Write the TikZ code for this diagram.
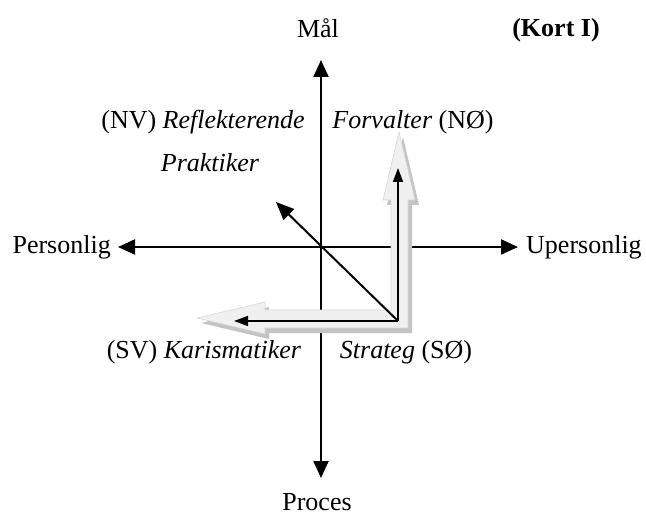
\documentclass[tikz,border=0pt]{standalone}
\usepackage{fontspec}
\setmainfont{Liberation Serif}
\usetikzlibrary{arrows.meta}
\definecolor{fatfill}{HTML}{F0F0F0}
\definecolor{fatshadow}{HTML}{C4C4C4}
\definecolor{fatline}{HTML}{D6D6D6}
\begin{document}
\begin{tikzpicture}[x=1pt,y=-1pt,
  lbl/.style={inner sep=0pt,font=\fontsize{26}{31}\selectfont},
  axis/.style={line width=2.2pt,{Triangle[length=17pt,width=15pt]}-{Triangle[length=17pt,width=15pt]}},
  thinarrow/.style={line width=1.6pt,-{Triangle[length=14pt,width=10pt]}},
  diagarrow/.style={line width=2pt,-{Triangle[length=18pt,width=15pt]}},
  fatarrow/.style={fill=fatfill,draw=fatline,line width=0.6pt},
  fatshad/.style={fill=fatshadow,draw=none}]
\useasboundingbox (0,0) rectangle (646,516);
% axis end points
\coordinate (top) at (321,60);
\coordinate (bot) at (321,478);
\coordinate (left) at (118,247);
\coordinate (right) at (518,247);
\coordinate (corner) at (398,321);
\coordinate (vtip) at (398,168);
\coordinate (htip) at (234,321);
\coordinate (dtip) at (276,202);
% axes
\draw[axis] (bot) -- (top);
\draw[axis] (left) -- (right);
% fat grey L arrow: shadow then fill
\begin{scope}[shift={(4,5)}]
\fill[fatshad] (399,132) -- (415,200) -- (408,200) -- (408,328) -- (265,328) -- (265,334) -- (197,318) -- (265,302) -- (265,310) -- (391,310) -- (391,200) -- (383,200) -- cycle;
\end{scope}
\filldraw[fatarrow] (399,132) -- (415,200) -- (408,200) -- (408,328) -- (265,328) -- (265,334) -- (197,318) -- (265,302) -- (265,310) -- (391,310) -- (391,200) -- (383,200) -- cycle;
% thin black arrows
\draw[thinarrow] (corner) -- (vtip);
\draw[thinarrow] (corner) -- (htip);
\draw[diagarrow] (corner) -- (dtip);
% labels
\node[lbl] (maal) at (318,28) {Mål};
\node[lbl] (proces) at (317,502) {Proces};
\node[lbl,anchor=east] (pers) at (111,247) {Personlig};
\node[lbl,anchor=west] (upers) at (526,247) {Upersonlig};
\node[lbl,font=\fontsize{26}{31}\selectfont\bfseries] (kort) at (556,30) {(Kort I)};
\node[lbl] (nv) at (203,122) {(NV) \textit{Reflekterende}};
\node[lbl] (prak) at (210,163) {\textit{Praktiker}};
\node[lbl] (no) at (413,122) {\textit{Forvalter} (NØ)};
\node[lbl] (sv) at (204,352) {(SV) \textit{Karismatiker}};
\node[lbl] (so) at (406,352) {\textit{Strateg} (SØ)};
\end{tikzpicture}
\end{document}
